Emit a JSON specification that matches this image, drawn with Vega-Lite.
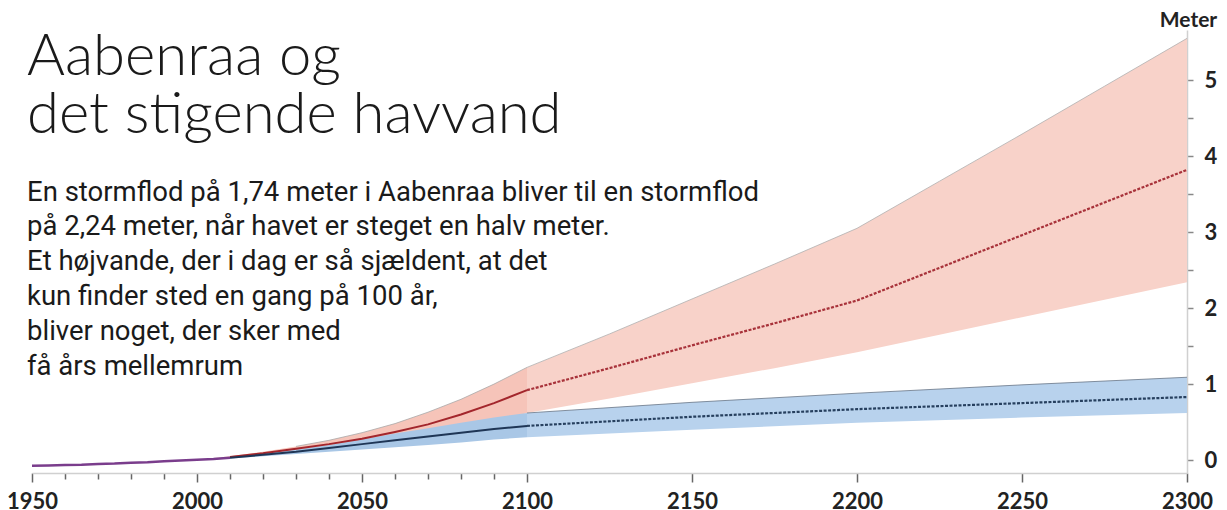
{
  "$schema": "https://vega.github.io/schema/vega-lite/v6.json",
  "autosize": "none",
  "width": 1155,
  "height": 443,
  "padding": {"left": 32, "top": 30, "right": 40, "bottom": 37},
  "background": "white",
  "config": {"view": {"stroke": null}},
  "title": {
    "text": ["Aabenraa og", "det stigende havvand"],
    "subtitle": [
      "En stormflod på 1,74 meter i Aabenraa bliver til en stormflod",
      "på 2,24 meter, når havet er steget en halv meter.",
      "Et højvande, der i dag er så sjældent, at det",
      "kun finder sted en gang på 100 år,",
      "bliver noget, der sker med",
      "få års mellemrum"
    ],
    "anchor": "start",
    "frame": "group",
    "orient": "top",
    "offset": -371,
    "dx": -5,
    "font": "Lato",
    "fontSize": 58,
    "fontWeight": 300,
    "lineHeight": 58,
    "color": "#1a1a1a",
    "subtitleFont": "Roboto",
    "subtitleFontSize": 27.5,
    "subtitleFontWeight": 400,
    "subtitleLineHeight": 34.8,
    "subtitleColor": "#1a1a1a",
    "subtitlePadding": 34
  },
  "datasets": {
    "proj": [
      {"scenario": "high", "year": 2000, "lo": 0.0, "mid": 0.0, "hi": 0.0},
      {"scenario": "high", "year": 2010, "lo": 0.03, "mid": 0.04, "hi": 0.05},
      {"scenario": "high", "year": 2020, "lo": 0.07, "mid": 0.09, "hi": 0.11},
      {"scenario": "high", "year": 2030, "lo": 0.11, "mid": 0.15, "hi": 0.18},
      {"scenario": "high", "year": 2040, "lo": 0.15, "mid": 0.21, "hi": 0.26},
      {"scenario": "high", "year": 2050, "lo": 0.19, "mid": 0.28, "hi": 0.36},
      {"scenario": "high", "year": 2060, "lo": 0.24, "mid": 0.37, "hi": 0.48},
      {"scenario": "high", "year": 2070, "lo": 0.3, "mid": 0.47, "hi": 0.63},
      {"scenario": "high", "year": 2080, "lo": 0.38, "mid": 0.6, "hi": 0.8},
      {"scenario": "high", "year": 2090, "lo": 0.48, "mid": 0.75, "hi": 1.0},
      {"scenario": "high", "year": 2100, "lo": 0.62, "mid": 0.92, "hi": 1.22},
      {"scenario": "low", "year": 2000, "lo": 0.0, "mid": 0.0, "hi": 0.0},
      {"scenario": "low", "year": 2010, "lo": 0.02, "mid": 0.03, "hi": 0.04},
      {"scenario": "low", "year": 2020, "lo": 0.05, "mid": 0.07, "hi": 0.09},
      {"scenario": "low", "year": 2030, "lo": 0.08, "mid": 0.11, "hi": 0.14},
      {"scenario": "low", "year": 2040, "lo": 0.11, "mid": 0.16, "hi": 0.2},
      {"scenario": "low", "year": 2050, "lo": 0.14, "mid": 0.21, "hi": 0.27},
      {"scenario": "low", "year": 2060, "lo": 0.17, "mid": 0.26, "hi": 0.35},
      {"scenario": "low", "year": 2070, "lo": 0.2, "mid": 0.31, "hi": 0.42},
      {"scenario": "low", "year": 2080, "lo": 0.23, "mid": 0.36, "hi": 0.49},
      {"scenario": "low", "year": 2090, "lo": 0.27, "mid": 0.41, "hi": 0.56},
      {"scenario": "low", "year": 2100, "lo": 0.3, "mid": 0.45, "hi": 0.62}
    ],
    "ext": [
      {"scenario": "high", "year": 2100, "lo": 0.62, "mid": 0.92, "hi": 1.22},
      {"scenario": "high", "year": 2125, "lo": 0.81, "mid": 1.21, "hi": 1.66},
      {"scenario": "high", "year": 2150, "lo": 1.01, "mid": 1.51, "hi": 2.12},
      {"scenario": "high", "year": 2175, "lo": 1.21, "mid": 1.8, "hi": 2.58},
      {"scenario": "high", "year": 2200, "lo": 1.42, "mid": 2.1, "hi": 3.05},
      {"scenario": "high", "year": 2225, "lo": 1.65, "mid": 2.53, "hi": 3.67},
      {"scenario": "high", "year": 2250, "lo": 1.88, "mid": 2.96, "hi": 4.29},
      {"scenario": "high", "year": 2275, "lo": 2.11, "mid": 3.39, "hi": 4.92},
      {"scenario": "high", "year": 2300, "lo": 2.34, "mid": 3.82, "hi": 5.55},
      {"scenario": "low", "year": 2100, "lo": 0.3, "mid": 0.45, "hi": 0.62},
      {"scenario": "low", "year": 2150, "lo": 0.4, "mid": 0.57, "hi": 0.76},
      {"scenario": "low", "year": 2200, "lo": 0.49, "mid": 0.67, "hi": 0.88},
      {"scenario": "low", "year": 2250, "lo": 0.56, "mid": 0.75, "hi": 0.99},
      {"scenario": "low", "year": 2300, "lo": 0.62, "mid": 0.83, "hi": 1.09}
    ],
    "hist": [
      {"year": 1950, "level": -0.075},
      {"year": 1955, "level": -0.07},
      {"year": 1960, "level": -0.065},
      {"year": 1965, "level": -0.06},
      {"year": 1970, "level": -0.05},
      {"year": 1975, "level": -0.045},
      {"year": 1980, "level": -0.035},
      {"year": 1985, "level": -0.03},
      {"year": 1990, "level": -0.015},
      {"year": 1995, "level": -0.005},
      {"year": 2000, "level": 0.005},
      {"year": 2005, "level": 0.015},
      {"year": 2010, "level": 0.03}
    ]
  },
  "encoding": {
    "x": {
      "field": "year",
      "type": "quantitative",
      "scale": {"domain": [1950, 2300], "nice": false, "zero": false},
      "axis": {
        "title": null,
        "orient": "bottom",
        "values": [1950, 1960, 1970, 1980, 1990, 2000, 2010, 2020, 2030, 2040, 2050, 2060, 2070, 2080, 2090, 2100, 2150, 2200, 2250, 2300],
        "format": "d",
        "labelExpr": "datum.value % 50 === 0 ? datum.label : ''",
        "grid": false,
        "domainColor": "#d0d0d0",
        "domainWidth": 1.5,
        "tickColor": "#666",
        "tickWidth": 1.5,
        "tickSize": {"condition": {"test": "datum.value % 50 === 0", "value": 9}, "value": 6},
        "labelFont": "Lato",
        "labelFontSize": 22,
        "labelFontWeight": "bold",
        "labelColor": "#222",
        "labelPadding": 9,
        "labelBaseline": "top",
        "labelFlush": false,
        "labelOverlap": false
      }
    }
  },
  "layer": [
    {
      "data": {"name": "proj"},
      "transform": [{"filter": "datum.scenario === 'high'"}],
      "mark": {"type": "area", "color": "#f6c4b9", "opacity": 1},
      "encoding": {
        "y": {"field": "hi", "type": "quantitative",
          "scale": {"domain": [-0.17, 5.66], "nice": false, "zero": false},
          "axis": {
            "orient": "right",
            "title": "Meter",
            "titleAngle": 0,
            "titleAlign": "center",
            "titleBaseline": "middle",
            "titleX": 1,
            "titleY": -10,
            "titleFont": "Lato",
            "titleFontSize": 21,
            "titleFontWeight": "bold",
            "titleColor": "#222",
            "values": [0, 1, 1.5, 2, 2.5, 3, 3.5, 4, 4.5, 5],
            "labelExpr": "datum.value % 1 === 0 ? ('' + datum.value) : ''",
            "labelOverlap": false,
            "labelFlush": false,
            "grid": false,
            "domainColor": "#d0d0d0",
            "domainWidth": 1.5,
            "tickColor": "#888",
            "tickSize": 6,
            "tickWidth": 1.5,
            "labelFont": "Lato",
            "labelFontSize": 22,
            "labelFontWeight": "bold",
            "labelColor": "#222",
            "labelPadding": 11
          }
        },
        "y2": {"field": "lo"}
      }
    },
    {
      "data": {"name": "ext"},
      "transform": [{"filter": "datum.scenario === 'high'"}],
      "mark": {"type": "area", "color": "#f8d2c9", "opacity": 1},
      "encoding": {"y": {"field": "hi", "type": "quantitative"}, "y2": {"field": "lo"}}
    },
    {
      "data": {"name": "proj"},
      "transform": [{"filter": "datum.scenario === 'low'"}],
      "mark": {"type": "area", "color": "#a9c7e6", "opacity": 1},
      "encoding": {"y": {"field": "hi", "type": "quantitative"}, "y2": {"field": "lo"}}
    },
    {
      "data": {"name": "ext"},
      "transform": [{"filter": "datum.scenario === 'low'"}],
      "mark": {"type": "area", "color": "#b8d2ed", "opacity": 1},
      "encoding": {"y": {"field": "hi", "type": "quantitative"}, "y2": {"field": "lo"}}
    },
    {
      "data": {"name": "proj"},
      "transform": [{"filter": "datum.scenario === 'high' && datum.year >= 2030"}],
      "mark": {"type": "line", "color": "#a8a8a8", "strokeWidth": 0.8},
      "encoding": {"y": {"field": "hi", "type": "quantitative"}}
    },
    {
      "data": {"name": "ext"},
      "transform": [{"filter": "datum.scenario === 'high'"}],
      "mark": {"type": "line", "color": "#b0b0b0", "strokeWidth": 0.8},
      "encoding": {"y": {"field": "hi", "type": "quantitative"}}
    },
    {
      "data": {"name": "ext"},
      "transform": [{"filter": "datum.scenario === 'low'"}],
      "mark": {"type": "line", "color": "#6a7686", "strokeWidth": 0.8},
      "encoding": {"y": {"field": "hi", "type": "quantitative"}}
    },
    {
      "mark": {"type": "rule", "color": "#9a9a9a", "strokeWidth": 1.5},
      "encoding": {"y": {"datum": 0}}
    },
    {
      "data": {"name": "proj"},
      "transform": [{"filter": "datum.scenario === 'high' && datum.year >= 2010"}],
      "mark": {"type": "line", "color": "#a3262c", "strokeWidth": 2},
      "encoding": {"y": {"field": "mid", "type": "quantitative"}}
    },
    {
      "data": {"name": "ext"},
      "transform": [{"filter": "datum.scenario === 'high'"}],
      "mark": {"type": "line", "color": "#a8323a", "strokeWidth": 2.2, "strokeDash": [3, 1.5]},
      "encoding": {"y": {"field": "mid", "type": "quantitative"}}
    },
    {
      "data": {"name": "proj"},
      "transform": [{"filter": "datum.scenario === 'low' && datum.year >= 2010"}],
      "mark": {"type": "line", "color": "#1f3656", "strokeWidth": 2},
      "encoding": {"y": {"field": "mid", "type": "quantitative"}}
    },
    {
      "data": {"name": "ext"},
      "transform": [{"filter": "datum.scenario === 'low'"}],
      "mark": {"type": "line", "color": "#27405f", "strokeWidth": 2.2, "strokeDash": [3, 1.5]},
      "encoding": {"y": {"field": "mid", "type": "quantitative"}}
    },
    {
      "data": {"name": "hist"},
      "mark": {"type": "line", "color": "#7a3d8c", "strokeWidth": 2.5},
      "encoding": {"y": {"field": "level", "type": "quantitative"}}
    }
  ]
}
